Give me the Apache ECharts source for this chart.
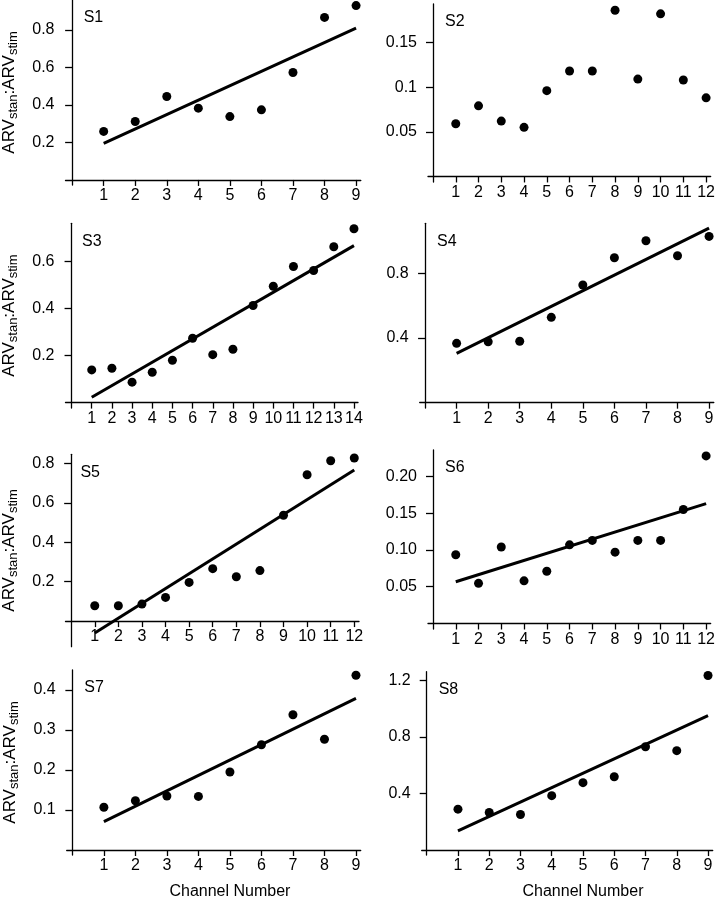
<!DOCTYPE html>
<html>
<head>
<meta charset="utf-8">
<script src="https://cdn.jsdelivr.net/npm/echarts@6/dist/echarts.min.js"></script>
<style>
html,body{margin:0;padding:0;background:#fff;}
#chart{width:718px;height:902px;}
</style>
</head>
<body>
<div id="chart"></div>
<script>
// ---------- data ----------
const channels9  = [1,2,3,4,5,6,7,8,9];
const channels12 = [1,2,3,4,5,6,7,8,9,10,11,12];
const channels14 = [1,2,3,4,5,6,7,8,9,10,11,12,13,14];

const s1Values = [0.259,0.312,0.445,0.383,0.338,0.374,0.573,0.867,0.930];
const s1Fit    = [[1,0.195],[9,0.810]];
const s2Values = [0.059,0.079,0.062,0.055,0.096,0.118,0.118,0.186,0.109,0.182,0.108,0.088];
const s3Values = [0.139,0.146,0.087,0.129,0.180,0.274,0.204,0.227,0.413,0.495,0.579,0.562,0.663,0.740];
const s3Fit    = [[1,0.023],[14,0.668]];
const s4Values = [0.367,0.377,0.380,0.528,0.728,0.897,1.002,0.909,1.029];
const s4Fit    = [[1,0.305],[9,1.080]];
const s5Values = [0.078,0.078,0.086,0.120,0.196,0.266,0.225,0.256,0.537,0.742,0.813,0.827];
const s5Fit    = [[1,-0.060],[12,0.766]];
const s6Values = [0.0935,0.0546,0.104,0.058,0.071,0.107,0.113,0.097,0.113,0.113,0.155,0.228];
const s6Fit    = [[1,0.0568],[12,0.163]];
const s7Values = [0.107,0.123,0.135,0.134,0.195,0.263,0.338,0.277,0.437];
const s7Fit    = [[1,0.071],[9,0.379]];
const s8Values = [0.289,0.265,0.251,0.384,0.476,0.518,0.730,0.702,1.233];
const s8Fit    = [[1,0.136],[9,0.950]];

const s1YTicks = [0.2,0.4,0.6,0.8];      const s1YLabels = ['0.2','0.4','0.6','0.8'];
const s2YTicks = [0.05,0.1,0.15];        const s2YLabels = ['0.05','0.1','0.15'];
const s3YTicks = [0.2,0.4,0.6];          const s3YLabels = ['0.2','0.4','0.6'];
const s4YTicks = [0.4,0.8];              const s4YLabels = ['0.4','0.8'];
const s5YTicks = [0.2,0.4,0.6,0.8];      const s5YLabels = ['0.2','0.4','0.6','0.8'];
const s6YTicks = [0.05,0.10,0.15,0.20];  const s6YLabels = ['0.05','0.10','0.15','0.20'];
const s7YTicks = [0.1,0.2,0.3,0.4];      const s7YLabels = ['0.1','0.2','0.3','0.4'];
const s8YTicks = [0.4,0.8,1.2];          const s8YLabels = ['0.4','0.8','1.2'];

const panelNames = ['S1','S2','S3','S4','S5','S6','S7','S8'];
const yTitleText = '{m|ARV}{s|stan}{m|:ARV}{s|stim}';
const xTitleText = 'Channel Number';

// ---------- layout (pixel boxes & axis extents) ----------
const panels = [
  {name:panelNames[0], x:channels9,  y:s1Values, fit:s1Fit, yt:s1YTicks, yl:s1YLabels, box:[65,360.8,0,185],     xr:[-0.21,9.15], yr:[-0.027,0.96],  yTitle:true},
  {name:panelNames[1], x:channels12, y:s2Values, fit:null,  yt:s2YTicks, yl:s2YLabels, box:[428,713,4,182],      xr:[-0.22,12.2], yr:[-0.0062,0.193]},
  {name:panelNames[2], x:channels14, y:s3Values, fit:s3Fit, yt:s3YTicks, yl:s3YLabels, box:[64,358,223.3,408],   xr:[-0.3,14.2],  yr:[-0.023,0.763], yTitle:true},
  {name:panelNames[3], x:channels9,  y:s4Values, fit:s4Fit, yt:s4YTicks, yl:s4YLabels, box:[419.7,713.8,223.3,408], xr:[-0.17,9.15], yr:[-0.033,1.11]},
  {name:panelNames[4], x:channels12, y:s5Values, fit:s5Fit, yt:s5YTicks, yl:s5YLabels, box:[62.7,359,454.3,646.7], xr:[-0.24,12.2], yr:[-0.13,0.846], yTitle:true},
  {name:panelNames[5], x:channels12, y:s6Values, fit:s6Fit, yt:s6YTicks, yl:s6YLabels, box:[428,713,450,629],    xr:[-0.22,12.2], yr:[-0.0075,0.236]},
  {name:panelNames[6], x:channels9,  y:s7Values, fit:s7Fit, yt:s7YTicks, yl:s7YLabels, box:[66.7,360.7,670,855], xr:[-0.18,9.15], yr:[-0.0125,0.45], yTitle:true, xTitle:true},
  {name:panelNames[7], x:channels9,  y:s8Values, fit:s8Fit, yt:s8YTicks, yl:s8YLabels, box:[421.7,712.7,671.7,855], xr:[-0.16,9.15], yr:[-0.035,1.26], xTitle:true}
];

const FONT = 'Liberation Sans, Arial, sans-serif';
const INK = '#000';
const axisLineStyle = {color: INK, width: 1.3};

const grid = [], xAxis = [], yAxis = [], series = [], title = [];

panels.forEach((p, i) => {
  const [l, r, t, b] = p.box;
  grid.push({left: l, top: t, width: r - l, height: b - t});
  const scale = (r - l) / (p.xr[1] - p.xr[0]);
  const zeroX = l + (0 - p.xr[0]) * scale;
  const yScale = (b - t) / (p.yr[1] - p.yr[0]);
  const zeroY = b - (0 - p.yr[0]) * yScale;
  const centerShift = (zeroX + 5 * scale) - (l + r) / 2;

  xAxis.push({
    type: 'value', gridIndex: i, min: p.xr[0], max: p.xr[1],
    position: 'bottom', offset: -(b - zeroY),
    axisLine: {show: true, onZero: false, lineStyle: axisLineStyle},
    axisTick: {show: true, customValues: p.x, length: 6, lineStyle: axisLineStyle},
    axisLabel: {customValues: p.x, margin: 8, fontSize: 16, color: INK, fontFamily: FONT},
    splitLine: {show: false},
    name: p.xTitle ? xTitleText : '',
    nameLocation: 'middle', nameGap: 34,
    nameTextStyle: {fontSize: 16, color: INK, fontFamily: FONT, padding: [0, 0, 0, Math.max(0, 2 * centerShift)]}
  });

  const yt = p.yt, yl = p.yl;
  yAxis.push({
    type: 'value', gridIndex: i, min: p.yr[0], max: p.yr[1],
    axisLine: {show: true, onZero: true, lineStyle: axisLineStyle},
    axisTick: {show: true, customValues: yt, length: 7, lineStyle: axisLineStyle},
    axisLabel: {
      customValues: yt, margin: 11, fontSize: 16, color: INK, fontFamily: FONT,
      formatter: function (v) {
        const k = yt.findIndex(tk => Math.abs(tk - v) < 1e-9);
        return k >= 0 ? yl[k] : '';
      }
    },
    splitLine: {show: false},
    name: p.yTitle ? yTitleText : '',
    nameLocation: 'middle', nameRotate: 90, nameGap: 46,
    nameTextStyle: {
      color: INK, fontFamily: FONT,
      rich: {
        m: {fontSize: 17, lineHeight: 20, color: INK, fontFamily: FONT},
        s: {fontSize: 13, lineHeight: 6, verticalAlign: 'bottom', color: INK, fontFamily: FONT}
      }
    }
  });

  series.push({
    type: 'scatter', xAxisIndex: i, yAxisIndex: i,
    data: p.y.map((v, k) => [p.x[k], v]),
    symbol: 'circle', symbolSize: 9,
    itemStyle: {color: INK, opacity: 1}, z: 3, silent: true
  });
  if (p.fit) {
    series.push({
      type: 'line', xAxisIndex: i, yAxisIndex: i,
      data: p.fit, showSymbol: false, symbol: 'none',
      lineStyle: {color: INK, width: 3}, z: 2, silent: true
    });
  }

  title.push({
    text: p.name, left: zeroX + 12, top: t + 10, padding: 0,
    textStyle: {fontSize: 16, fontWeight: 'normal', color: INK, fontFamily: FONT}
  });
});

const chart = echarts.init(document.getElementById('chart'), null, {renderer: 'canvas'});
chart.setOption({
  backgroundColor: '#fff',
  animation: false,
  title: title,
  grid: grid,
  xAxis: xAxis,
  yAxis: yAxis,
  series: series
});
</script>
</body>
</html>
